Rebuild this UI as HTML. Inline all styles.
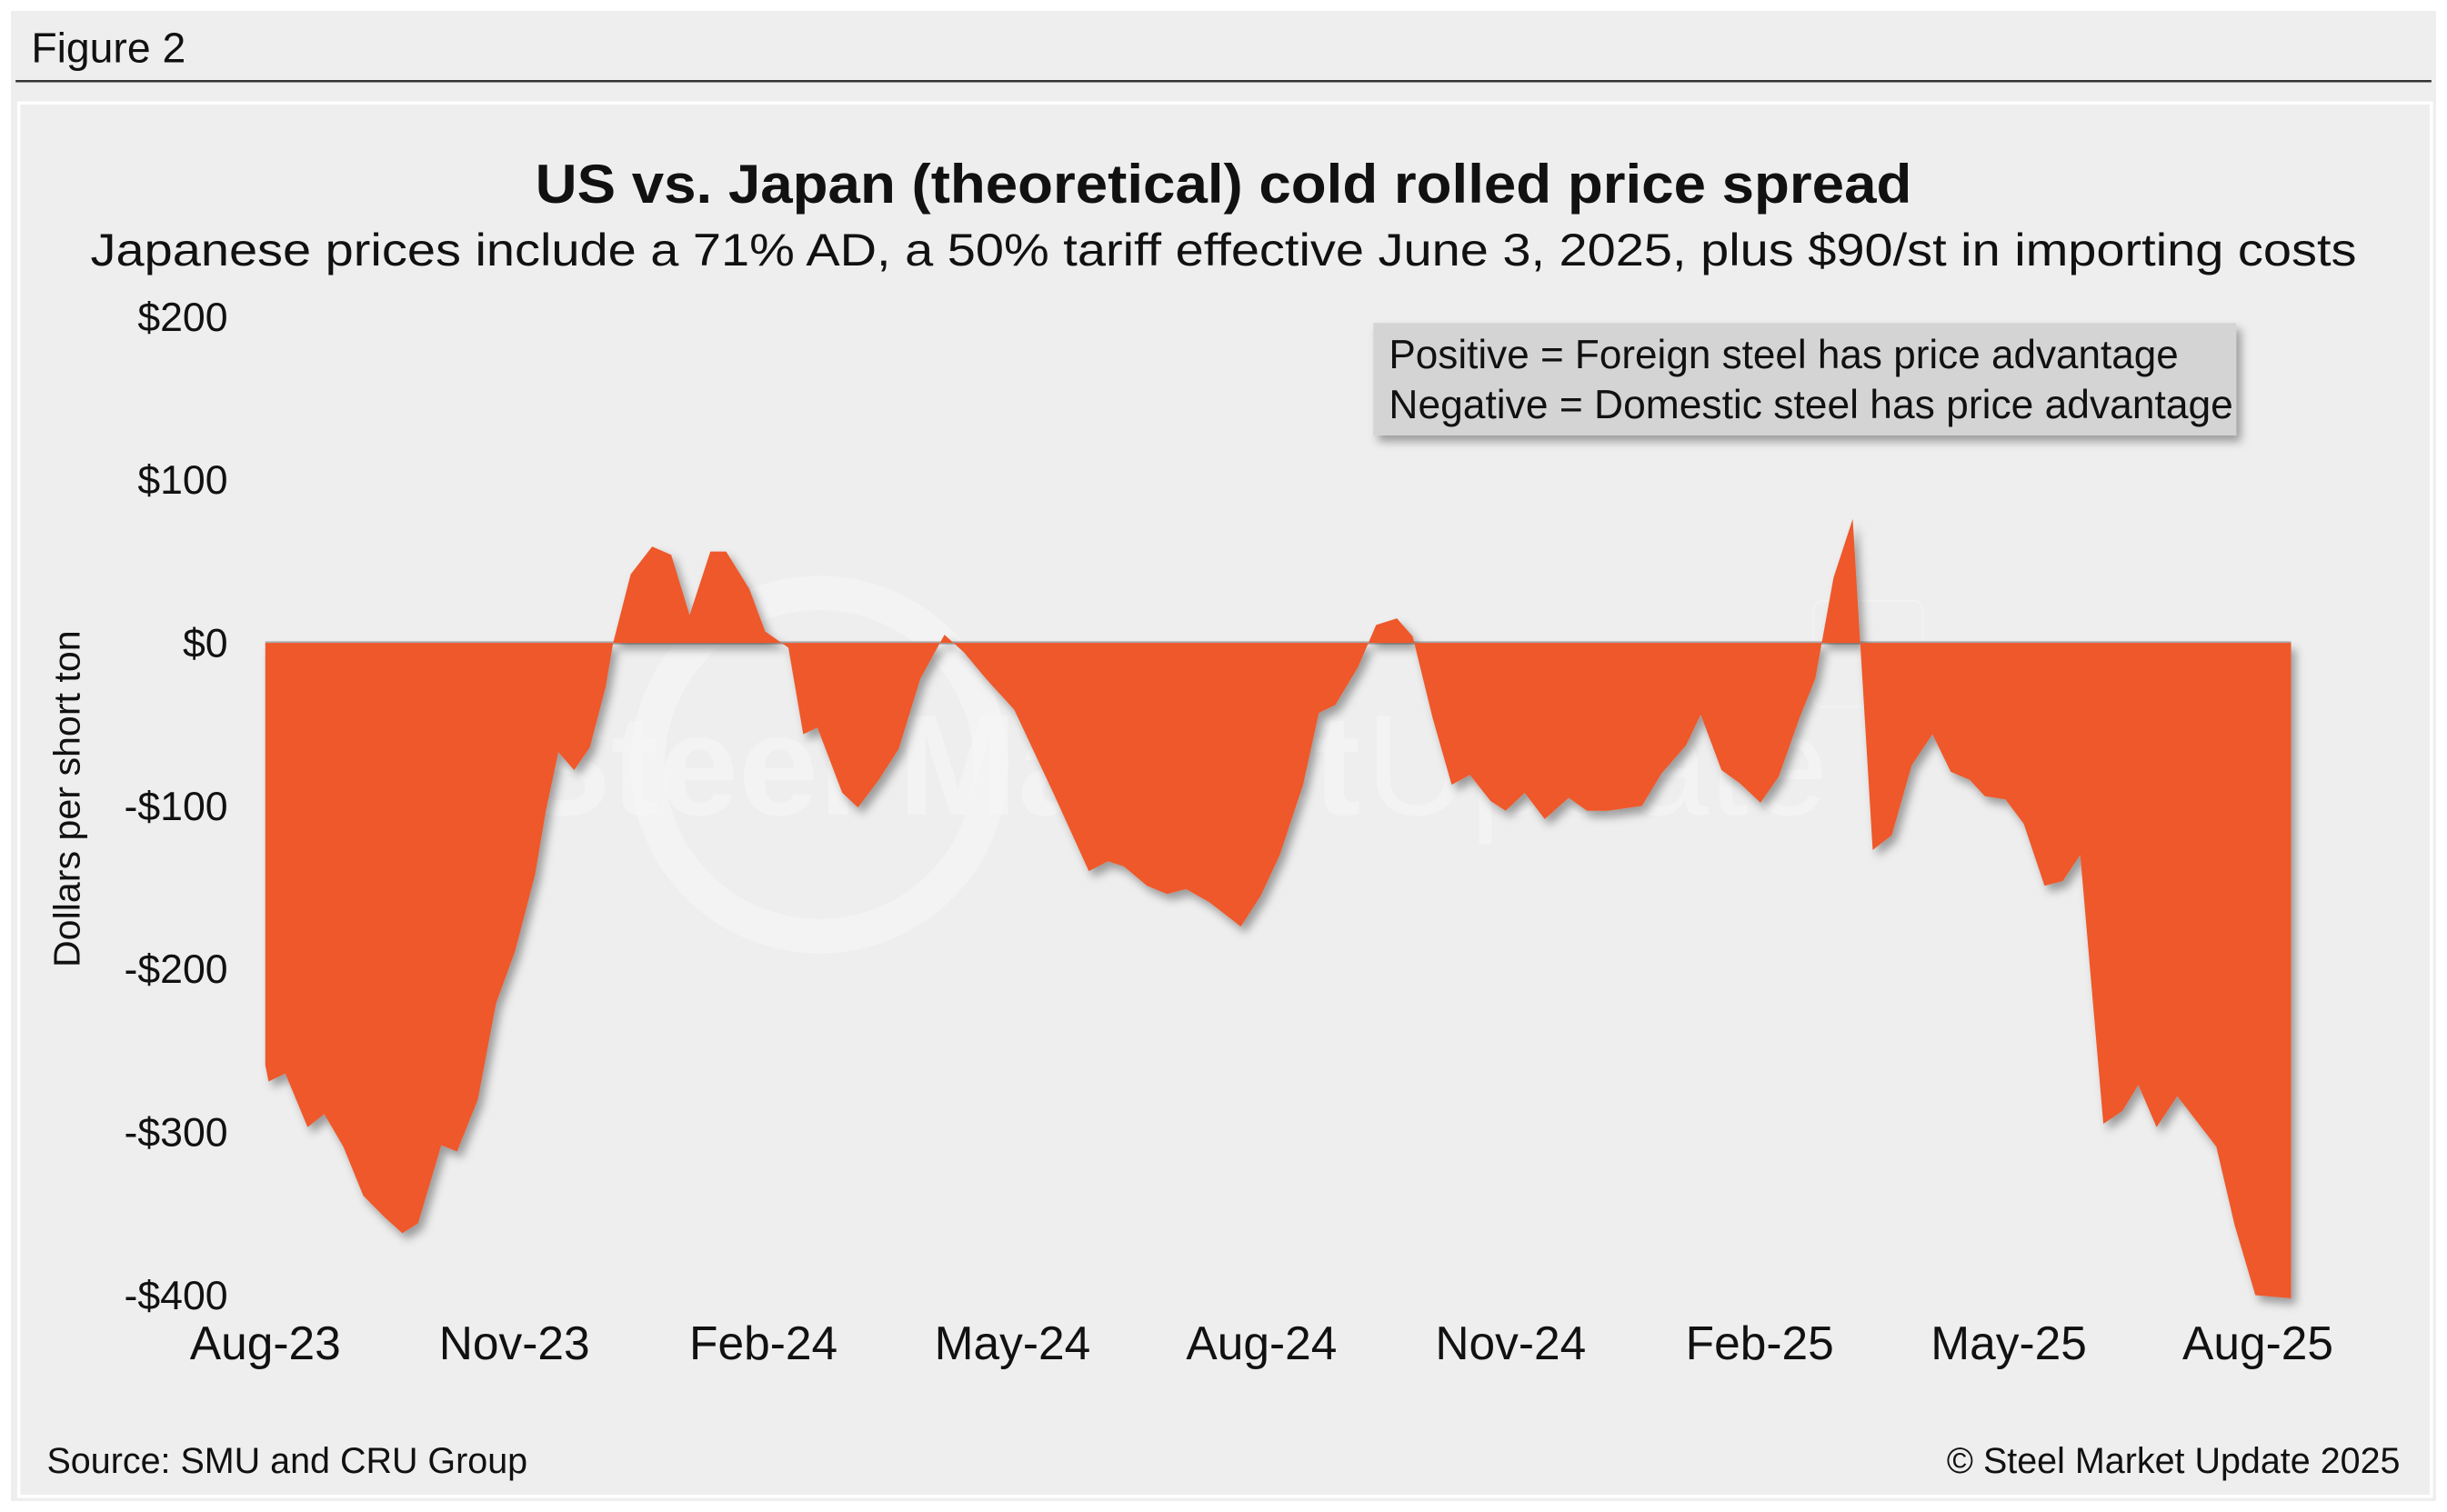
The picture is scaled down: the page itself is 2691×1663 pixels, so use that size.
<!DOCTYPE html>
<html><head><meta charset="utf-8"><style>
html,body{margin:0;padding:0;background:#fff;}
svg{display:block;font-family:"Liberation Sans",sans-serif;}
</style></head><body>
<svg id="chart" width="2691" height="1663" viewBox="0 0 1568 969" xmlns="http://www.w3.org/2000/svg">
<defs>
<filter id="sh" x="-5%" y="-5%" width="115%" height="120%"><feDropShadow dx="3" dy="4" stdDeviation="3" flood-color="#000" flood-opacity="0.35"/></filter>
</defs>
<rect x="7" y="7" width="1554" height="955" fill="#eeeeee"/>
<text x="20" y="40" font-size="27" fill="#111">Figure 2</text>
<line x1="10" y1="52" x2="1558" y2="52" stroke="#333" stroke-width="1.5"/>
<rect x="12" y="66" width="1546" height="893" fill="#eeeeee" stroke="#fff" stroke-width="2"/>
<text x="784" y="130" font-size="35" font-weight="bold" text-anchor="middle" fill="#111" textLength="882" lengthAdjust="spacingAndGlyphs">US vs. Japan (theoretical) cold rolled price spread</text>
<text x="784" y="170" font-size="29" text-anchor="middle" fill="#111" textLength="1452" lengthAdjust="spacingAndGlyphs">Japanese prices include a 71% AD, a 50% tariff effective June 3, 2025, plus $90/st in importing costs</text>
<g opacity="0.5">
<circle cx="525" cy="490" r="110" fill="none" stroke="#fff" stroke-width="22" opacity="0.6"/>
<text x="330" y="522" font-size="92" font-weight="bold" fill="#fff" opacity="0.55">Steel Market</text>
<text x="875" y="522" font-size="92" fill="#fff" opacity="0.55">Update</text>
<rect x="1162" y="385" width="70" height="68" rx="6" fill="none" stroke="#fff" opacity="0.5"/>
</g>
<g id="yaxis"></g>
<g id="xaxis"></g>
<line id="zero" stroke="#aaa" stroke-width="2"/>
<path id="area" fill="#ee592b" filter="url(#sh)"/>
<text transform="translate(51,512) rotate(-90)" font-size="24" text-anchor="middle" fill="#111">Dollars per short ton</text>
<g>
<rect x="880" y="207" width="553" height="72" fill="#d4d4d4" filter="url(#sh)"/>
<text x="890" y="236" font-size="26" fill="#111" textLength="506" lengthAdjust="spacingAndGlyphs">Positive = Foreign steel has price advantage</text>
<text x="890" y="268" font-size="26" fill="#111" textLength="541" lengthAdjust="spacingAndGlyphs">Negative = Domestic steel has price advantage</text>
</g>
<text x="30" y="944" font-size="23" fill="#111">Source: SMU and CRU Group</text>
<text x="1538" y="944" font-size="23" fill="#111" text-anchor="end">© Steel Market Update 2025</text>
</svg>
<script>
const months=[0,0.04,0.24,0.51,0.71,0.94,1.18,1.43,1.65,1.84,2.12,2.31,2.56,2.78,3.01,3.25,3.38,3.53,3.72,3.91,4.10,4.19,4.40,4.66,4.89,5.11,5.36,5.55,5.83,6.02,6.30,6.48,6.65,6.95,7.14,7.39,7.63,7.89,8.18,8.42,8.68,9.02,9.49,9.92,10.15,10.34,10.62,10.86,11.09,11.37,11.75,11.99,12.22,12.50,12.69,12.89,13.16,13.38,13.63,13.82,14.06,14.29,14.51,14.76,14.94,15.17,15.41,15.70,15.92,16.17,16.58,16.82,17.11,17.29,17.54,17.76,18.01,18.23,18.48,18.67,18.89,19.12,19.36,19.59,19.83,20.08,20.30,20.53,20.71,20.96,21.18,21.43,21.65,21.86,22.14,22.37,22.56,22.78,23.03,23.50,23.72,23.97,24.40];
const spread=[-259,-269,-264,-297,-289,-309,-339,-352,-362,-356,-308,-312,-280,-221,-189,-142,-103,-67,-78,-64,-27,0,42,59,54,17,56,56,33,7,-3,-56,-52,-92,-101,-84,-65,-22,5,-6,-22,-41,-92,-140,-134,-137,-149,-154,-151,-159,-174,-155,-130,-87,-43,-38,-15,11,15,4,-46,-87,-81,-97,-103,-92,-108,-95,-103,-103,-100,-80,-63,-44,-78,-86,-98,-82,-46,-22,40,76,-127,-118,-75,-56,-79,-84,-94,-96,-111,-149,-146,-130,-295,-287,-271,-297,-278,-309,-357,-400,-402];
const yTicks=[200,100,0,-100,-200,-300,-400];
const yTickLabels=["$200","$100","$0","-$100","-$200","-$300","-$400"];
const xTicks=[0,3,6,9,12,15,18,21,24];
const xTickLabels=["Aug-23","Nov-23","Feb-24","May-24","Aug-24","Nov-24","Feb-25","May-25","Aug-25"];
const NS="http://www.w3.org/2000/svg";
const X=m=>170+m*53.2;
const Y=v=>412-v*1.045;
const ya=document.getElementById('yaxis'),xa=document.getElementById('xaxis');
yTicks.forEach((v,i)=>{const t=document.createElementNS(NS,'text');


t.setAttribute('x',146);t.setAttribute('y',Y(v)+9);t.setAttribute('font-size','26');t.setAttribute('text-anchor','end');t.setAttribute('fill','#111');t.textContent=yTickLabels[i];ya.appendChild(t);});
xTicks.forEach((m,i)=>{const t=document.createElementNS(NS,'text');


t.setAttribute('x',X(m));t.setAttribute('y',871);t.setAttribute('font-size','30');t.setAttribute('text-anchor','middle');t.setAttribute('fill','#111');t.textContent=xTickLabels[i];xa.appendChild(t);});
const z=document.getElementById('zero');
z.setAttribute('x1',X(months[0]));z.setAttribute('x2',X(months[months.length-1]));z.setAttribute('y1',Y(0));z.setAttribute('y2',Y(0));
let d='M'+X(months[0])+','+Y(0);
months.forEach((m,i)=>{d+=' L'+X(m).toFixed(1)+','+Y(spread[i]).toFixed(1);});
d+=' L'+X(months[months.length-1])+','+Y(0)+' Z';
document.getElementById('area').setAttribute('d',d);
</script>
</body></html>
